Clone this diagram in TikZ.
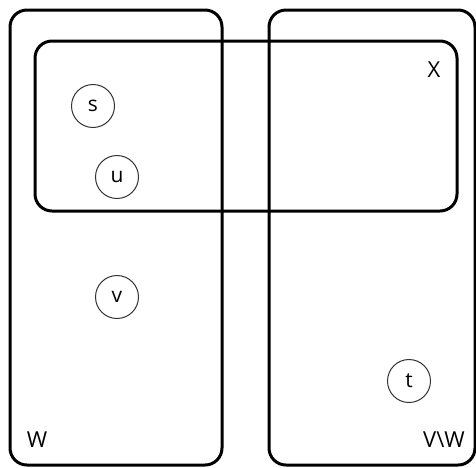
\documentclass[tikz,border=0pt]{standalone}
\usepackage{fontspec}
\setmainfont{Open Sans}
\begin{document}
\begin{tikzpicture}[x=1pt,y=-1pt,
  setbox/.style={draw=black, line width=3pt, rounded corners=17pt},
  vtx/.style={circle, draw=black!80, line width=1pt, minimum size=43pt, inner sep=0pt, font=\fontsize{21}{24}\selectfont},
  lbl/.style={font=\fontsize{22}{24}\selectfont, inner sep=0pt}]
\useasboundingbox (0,0) rectangle (476,467);
\draw[setbox] (10,10) rectangle (222,465);
\draw[setbox] (269,10) rectangle (475,465);
\draw[setbox] (35,41) rectangle (457,211);
\node[vtx] (s) at (93,106) {s};
\node[vtx] (u) at (117,177) {u};
\node[vtx] (v) at (117,297) {v};
\node[vtx] (t) at (409,381) {t};
\node[lbl] (X) at (434,70) {X};
\node[lbl] (W) at (37,440) {W};
\node[lbl] (VW) at (444,440) {V\textbackslash W};
\end{tikzpicture}
\end{document}
